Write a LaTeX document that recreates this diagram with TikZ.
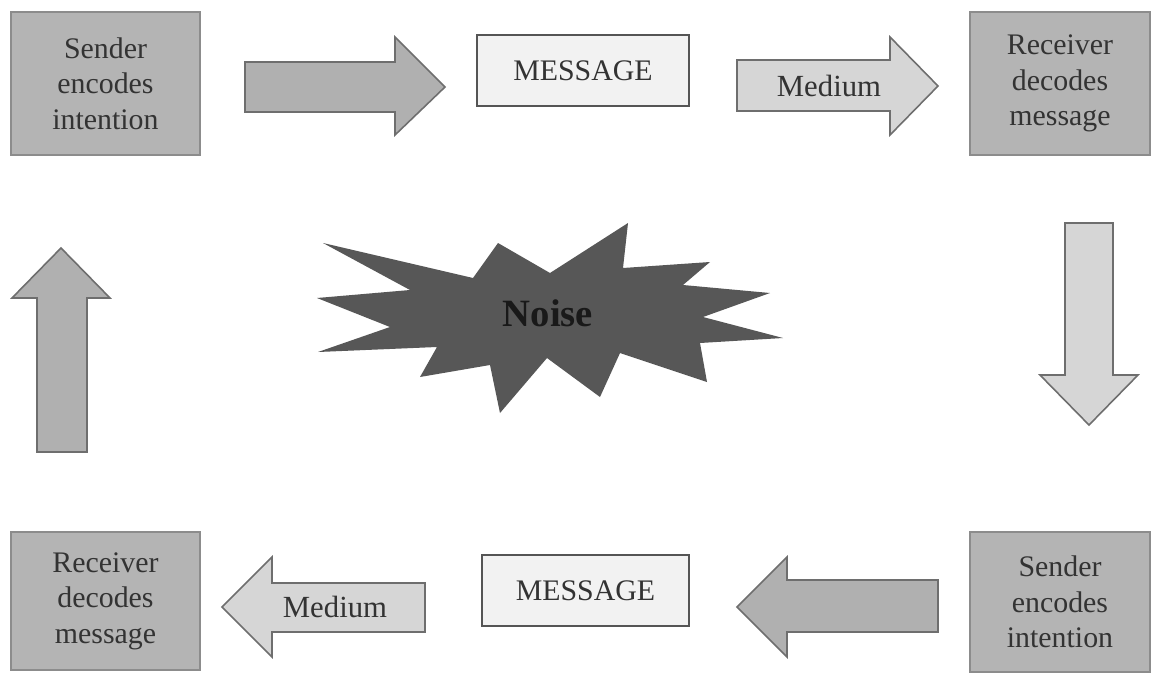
\documentclass[tikz,border=0pt]{standalone}
\usepackage{fontspec}
\setmainfont{Liberation Serif}
\definecolor{boxfill}{HTML}{B4B4B4}
\definecolor{boxline}{HTML}{8C8C8C}
\definecolor{msgfill}{HTML}{F2F2F2}
\definecolor{msgline}{HTML}{555555}
\definecolor{darkarrow}{HTML}{B0B0B0}
\definecolor{lightarrow}{HTML}{D6D6D6}
\definecolor{arrline}{HTML}{6E6E6E}
\definecolor{noisefill}{HTML}{575757}
\definecolor{txt}{HTML}{333333}
\begin{document}
\begin{tikzpicture}[x=0.02cm,y=-0.02cm,
  agent/.style={draw=boxline,line width=0.8pt,fill=boxfill,align=center,text=txt,
    font=\fontsize{17}{20.2}\selectfont,inner sep=0pt},
  msgbox/.style={draw=msgline,line width=1pt,fill=msgfill,text=txt,
    font=\fontsize{17}{20}\selectfont,inner sep=0pt,minimum height=1.42cm},
  darkarr/.style={draw=arrline,line width=0.9pt,fill=darkarrow,line join=miter},
  lightarr/.style={draw=arrline,line width=0.9pt,fill=lightarrow,line join=miter},
  lbl/.style={text=txt,font=\fontsize{17.5}{20}\selectfont,inner sep=0pt}]
\useasboundingbox (0,0) rectangle (1153,673);
\fill[white] (0,0) rectangle (1153,673);
% boxes
\node[agent,minimum width=3.78cm,minimum height=2.86cm] (s1) at (105.5,83.5) {Sender\\encodes\\intention};
\node[agent,minimum width=3.6cm,minimum height=2.86cm] (r1) at (1060,83.5) {Receiver\\decodes\\message};
\node[agent,minimum width=3.78cm,minimum height=2.76cm] (r2) at (105.5,601) {Receiver\\decodes\\message};
\node[agent,minimum width=3.6cm,minimum height=2.8cm] (s2) at (1060,602) {Sender\\encodes\\intention};
\node[msgbox,minimum width=4.24cm] (m1) at (583,70.5) {MESSAGE};
\node[msgbox,minimum width=4.14cm] (m2) at (585.5,590.5) {MESSAGE};
% block arrows
\draw[darkarr] (245,62)--(395,62)--(395,37)--(445,87)--(395,135)--(395,112)--(245,112)--cycle;
\draw[lightarr] (737,60)--(890,60)--(890,37)--(938,86)--(890,135)--(890,111)--(737,111)--cycle;
\node[lbl] (med1) at (829,86) {Medium};
\draw[lightarr] (1065,223)--(1113,223)--(1113,375)--(1138,375)--(1089,425)--(1040,375)--(1065,375)--cycle;
\draw[darkarr] (37,452)--(37,298)--(12,298)--(61,248)--(110,298)--(87,298)--(87,452)--cycle;
\draw[lightarr] (425,583)--(272,583)--(272,557)--(222,607)--(272,657)--(272,632)--(425,632)--cycle;
\node[lbl] (med2) at (335,607) {Medium};
\draw[darkarr] (938,580)--(787,580)--(787,557)--(737,607)--(787,657)--(787,632)--(938,632)--cycle;
% noise burst
\fill[noisefill] (323,243)--(410,290)--(317,298)--(390,327)--(318,352)--(437,347)--(420,377)--(490,365)--(500,413)--(547,358)--(600,397)--(620,353)--(707,382)--(700,343)--(783,338)--(703,317)--(770,293)--(683,285)--(710,262)--(623,268)--(628,223)--(550,273)--(498,243)--(473,278)--cycle;
\node[text=black!90,font=\fontsize{22}{24}\selectfont\bfseries,inner sep=0pt] (noise) at (548,313) {Noise};
\end{tikzpicture}
\end{document}
